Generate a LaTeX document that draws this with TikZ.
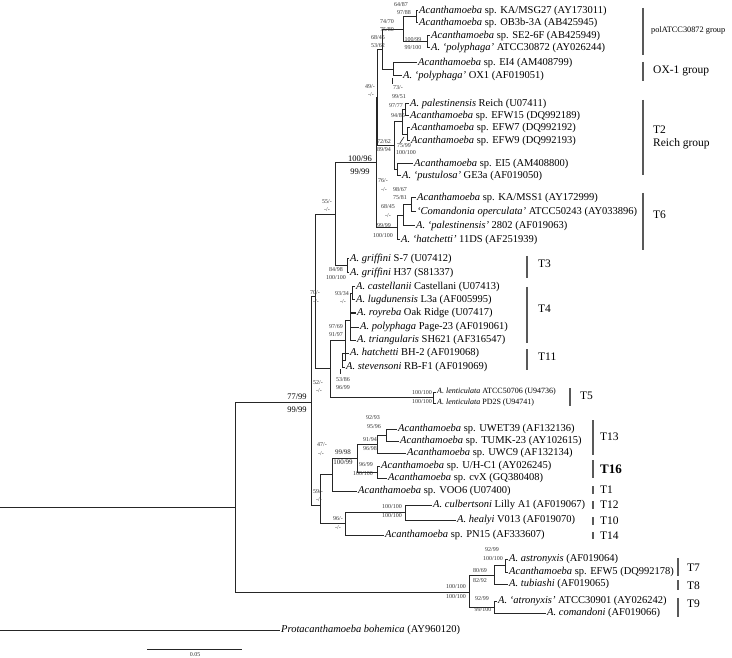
\documentclass[tikz,border=0pt]{standalone}
\usepackage{fontspec}
\setmainfont{Liberation Serif}
\usetikzlibrary{positioning}

\tikzset{
  leaf/.style={anchor=west, inner sep=1pt, font=\fontsize{10.5}{12}\selectfont},
  sleaf/.style={leaf, font=\fontsize{8}{9}\selectfont},
  sv/.style={inner sep=0pt, font=\fontsize{6}{7}\selectfont, text=black!80},
  mv/.style={inner sep=0pt, font=\fontsize{7}{8}\selectfont, text=black!85},
  bv/.style={inner sep=0pt, font=\fontsize{8.5}{9}\selectfont},
  grp/.style={anchor=west, inner sep=0pt, font=\fontsize{11.5}{13}\selectfont, align=left},
  bar/.style={line width=1.6pt, black!65},
  br/.style={line width=1pt, black!85},
}

\begin{document}
\begin{tikzpicture}[x=1pt, y=-1pt]
\useasboundingbox (0,0) rectangle (732,658);

% leaves
\node[leaf] (l1) at (418,11) {\textit{Acanthamoeba} sp. KA/MSG27 (AY173011)};
\node[leaf] (l2) at (418,23) {\textit{Acanthamoeba} sp. OB3b-3A (AB425945)};
\node[leaf] (l3) at (430,36) {\textit{Acanthamoeba} sp. SE2-6F (AB425949)};
\node[leaf] (l4) at (430,48) {\textit{A. `polyphaga'} ATCC30872 (AY026244)};
\node[leaf] (l5) at (417,63) {\textit{Acanthamoeba} sp. EI4 (AM408799)};
\node[leaf] (l6) at (402,76) {\textit{A. `polyphaga'} OX1 (AF019051)};
\node[leaf] (l7) at (409,104) {\textit{A. palestinensis} Reich (U07411)};
\node[leaf] (l8) at (409,116) {\textit{Acanthamoeba} sp. EFW15 (DQ992189)};
\node[leaf] (l9) at (410,128) {\textit{Acanthamoeba} sp. EFW7 (DQ992192)};
\node[leaf] (l10) at (410,141) {\textit{Acanthamoeba} sp. EFW9 (DQ992193)};
\node[leaf] (l11) at (413,164) {\textit{Acanthamoeba} sp. EI5 (AM408800)};
\node[leaf] (l12) at (401,176) {\textit{A. `pustulosa'} GE3a (AF019050)};
\node[leaf] (l13) at (416,198) {\textit{Acanthamoeba} sp. KA/MSS1 (AY172999)};
\node[leaf] (l14) at (416,212) {\textit{`Comandonia operculata'} ATCC50243 (AY033896)};
\node[leaf] (l15) at (415,226) {\textit{A. `palestinensis'} 2802 (AF019063)};
\node[leaf] (l16) at (400,240) {\textit{A. `hatchetti'} 11DS (AF251939)};
\node[leaf] (l17) at (349,259) {\textit{A. griffini} S-7 (U07412)};
\node[leaf] (l18) at (349,273) {\textit{A. griffini} H37 (S81337)};
\node[leaf] (l19) at (355,287) {\textit{A. castellanii} Castellani (U07413)};
\node[leaf] (l20) at (355,300) {\textit{A. lugdunensis} L3a (AF005995)};
\node[leaf] (l21) at (356,313) {\textit{A. royreba} Oak Ridge (U07417)};
\node[leaf] (l22) at (359,327) {\textit{A. polyphaga} Page-23 (AF019061)};
\node[leaf] (l23) at (356,340) {\textit{A. triangularis} SH621 (AF316547)};
\node[leaf] (l24) at (349,353) {\textit{A. hatchetti} BH-2 (AF019068)};
\node[leaf] (l25) at (345,367) {\textit{A. stevensoni} RB-F1 (AF019069)};
\node[sleaf] (l26) at (436,392) {\textit{A. lenticulata} ATCC50706 (U94736)};
\node[sleaf] (l27) at (436,403) {\textit{A. lenticulata} PD2S (U94741)};
\node[leaf] (l28) at (397,429) {\textit{Acanthamoeba} sp. UWET39 (AF132136)};
\node[leaf] (l29) at (399,441) {\textit{Acanthamoeba} sp. TUMK-23 (AY102615)};
\node[leaf] (l30) at (406,453) {\textit{Acanthamoeba} sp. UWC9 (AF132134)};
\node[leaf] (l31) at (380,466) {\textit{Acanthamoeba} sp. U/H-C1 (AY026245)};
\node[leaf] (l32) at (387,478) {\textit{Acanthamoeba} sp. cvX (GQ380408)};
\node[leaf] (l33) at (357,491) {\textit{Acanthamoeba} sp. VOO6 (U07400)};
\node[leaf] (l34) at (432,505) {\textit{A. culbertsoni} Lilly A1 (AF019067)};
\node[leaf] (l35) at (456,520) {\textit{A. healyi} V013 (AF019070)};
\node[leaf] (l36) at (384,535) {\textit{Acanthamoeba} sp. PN15 (AF333607)};
\node[leaf] (l37) at (508,559) {\textit{A. astronyxis} (AF019064)};
\node[leaf] (l38) at (508,572) {\textit{Acanthamoeba} sp. EFW5 (DQ992178)};
\node[leaf] (l39) at (508,584) {\textit{A. tubiashi} (AF019065)};
\node[leaf] (l40) at (497,601) {\textit{A. `atronyxis'} ATCC30901 (AY026242)};
\node[leaf] (l41) at (546,613) {\textit{A. comandoni} (AF019066)};
\node[leaf] (l42) at (280,630) {\textit{Protacanthamoeba bohemica} (AY960120)};

% internal nodes
\coordinate (n1) at (416,17);
\coordinate (n2) at (427,42);
\coordinate (n3) at (403,29.5);
\coordinate (n4) at (393,69.5);
\coordinate (n5) at (382,49.5);
\coordinate (n6) at (407,134.5);
\coordinate (n7) at (405,110);
\coordinate (n8) at (402,122);
\coordinate (n9) at (397,170);
\coordinate (n10) at (394,146);
\coordinate (n11) at (377,97.75);
\coordinate (n12) at (411,205);
\coordinate (n13) at (403,215.5);
\coordinate (n14) at (397,228);
\coordinate (n15) at (376,163);
\coordinate (n16) at (347,266);
\coordinate (n17) at (335,214.5);
\coordinate (n18) at (352,293.5);
\coordinate (n19) at (350,320);
\coordinate (n20) at (342,360);
\coordinate (n21) at (345,340);
\coordinate (n22) at (433,397.5);
\coordinate (n23) at (330,368.75);
\coordinate (n24) at (315,297);
\coordinate (n25) at (386,435);
\coordinate (n26) at (377,444);
\coordinate (n27) at (377,472);
\coordinate (n28) at (357,458);
\coordinate (n29) at (332,474.5);
\coordinate (n30) at (405,512.5);
\coordinate (n31) at (345,523.75);
\coordinate (n32) at (320,505);
\coordinate (n33) at (311,402);
\coordinate (n34) at (505,565.5);
\coordinate (n35) at (494,575);
\coordinate (n36) at (494,607);
\coordinate (n37) at (469,592);
\coordinate (n38) at (235,507);
\coordinate (root) at (-2,568);

% branches
\draw[br] (n1) |- (l1.west) (n1) |- (l2.west)
  (n2) |- (l3.west) (n2) |- (l4.west)
  (n3) |- (n1) (n3) |- (n2)
  (n4) |- (l5.west) (n4) |- (l6.west)
  (n5) |- (n3) (n5) |- (n4)
  (n6) |- (l9.west) (n6) |- (l10.west)
  (n7) |- (l7.west) (n7) |- (l8.west)
  (n8) |- (n7) (n8) |- (n6)
  (n9) |- (l11.west) (n9) |- (l12.west)
  (n10) |- (n8) (n10) |- (n9)
  (n11) |- (n5) (n11) |- (n10)
  (n12) |- (l13.west) (n12) |- (l14.west)
  (n13) |- (n12) (n13) |- (l15.west)
  (n14) |- (n13) (n14) |- (l16.west)
  (n15) |- (n11) (n15) |- (n14)
  (n16) |- (l17.west) (n16) |- (l18.west)
  (n17) |- (n15) (n17) |- (n16)
  (n18) |- (l19.west) (n18) |- (l20.west)
  (n19) |- (n18) (n19) |- (l21.west) (n19) |- (l22.west) (n19) |- (l23.west)
  (n20) |- (l24.west) (n20) |- (l25.west)
  (n21) |- (n19) (n21) |- (n20)
  (n22) |- (l26.west) (n22) |- (l27.west)
  (n23) |- (n21) (n23) |- (n22)
  (n24) |- (n17) (n24) |- (n23)
  (n25) |- (l28.west) (n25) |- (l29.west)
  (n26) |- (n25) (n26) |- (l30.west)
  (n27) |- (l31.west) (n27) |- (l32.west)
  (n28) |- (n26) (n28) |- (n27)
  (n29) |- (n28) (n29) |- (l33.west)
  (n30) |- (l34.west) (n30) |- (l35.west)
  (n31) |- (n30) (n31) |- (l36.west)
  (n32) |- (n29) (n32) |- (n31)
  (n33) |- (n24) (n33) |- (n32)
  (n34) |- (l37.west) (n34) |- (l38.west)
  (n35) |- (n34) (n35) |- (l39.west)
  (n36) |- (l40.west) (n36) |- (l41.west)
  (n37) |- (n35) (n37) |- (n36)
  (n38) |- (n33) (n38) |- (n37)
  (root) |- (n38) (root) |- (l42.west);

% pointer ticks
\draw[br, line width=0.6pt] (392,78) -- (392,84);
\draw[br, line width=0.6pt] (400,143) -- (404,137);
\draw[br, line width=0.6pt] (340,369) -- (340,374);

% support values
\node[sv] (s1) at (401,5) {64/87};
\node[sv] (s2) at (404,13) {97/88};
\node[sv] (s3) at (387,22) {74/70};
\node[sv] (s4) at (387,30) {75/80};
\node[sv] (s5) at (413,40) {100/99};
\node[sv] (s6) at (413,48) {99/100};
\node[sv] (s7) at (378,38) {68/45};
\node[sv] (s8) at (378,46) {53/62};
\node[sv] (s9) at (398,88) {73/-};
\node[sv] (s10) at (399,97) {99/51};
\node[sv] (s11) at (370,87) {49/-};
\node[sv] (s12) at (371,95) {-/-};
\node[sv] (s13) at (396,106) {97/77};
\node[sv] (s14) at (398,116) {94/85};
\node[sv] (s15) at (404,146) {75/99};
\node[sv] (s16) at (406,153) {100/100};
\node[sv] (s17) at (384,142) {72/62};
\node[sv] (s18) at (384,150) {89/94};
\node[bv] (s19) at (360,159) {100/96};
\node[bv] (s20) at (360,172) {99/99};
\node[sv] (s21) at (383,181) {76/-};
\node[sv] (s22) at (384,190) {-/-};
\node[sv] (s23) at (400,190) {98/67};
\node[sv] (s24) at (400,198) {75/81};
\node[sv] (s25) at (388,207) {68/45};
\node[sv] (s26) at (388,216) {-/-};
\node[sv] (s27) at (384,226) {99/99};
\node[sv] (s28) at (383,236) {100/100};
\node[sv] (s29) at (327,202) {55/-};
\node[sv] (s30) at (327,210) {-/-};
\node[sv] (s31) at (336,270) {84/98};
\node[sv] (s32) at (336,278) {100/100};
\node[sv] (s33) at (342,294) {93/34};
\node[sv] (s34) at (343,302) {-/-};
\node[sv] (s35) at (315,293) {70/-};
\node[sv] (s36) at (316,302) {-/-};
\node[sv] (s37) at (336,327) {97/69};
\node[sv] (s38) at (336,335) {91/97};
\node[sv] (s39) at (343,380) {53/86};
\node[sv] (s40) at (343,388) {96/99};
\node[sv] (s41) at (318,383) {52/-};
\node[sv] (s42) at (319,391) {-/-};
\node[bv] (s43) at (297,397) {77/99};
\node[bv] (s44) at (297,410) {99/99};
\node[sv] (s45) at (422,393) {100/100};
\node[sv] (s46) at (422,402) {100/100};
\node[sv] (s47) at (373,418) {92/93};
\node[sv] (s48) at (374,427) {95/96};
\node[sv] (s49) at (370,440) {91/94};
\node[sv] (s50) at (370,449) {96/98};
\node[mv] (s51) at (343,452) {99/98};
\node[mv] (s52) at (343,462) {100/99};
\node[sv] (s53) at (366,465) {96/99};
\node[sv] (s54) at (363,474) {100/100};
\node[sv] (s55) at (322,445) {47/-};
\node[sv] (s56) at (321,454) {-/-};
\node[sv] (s57) at (318,492) {59/-};
\node[sv] (s58) at (319,500) {-/-};
\node[sv] (s59) at (392,507) {100/100};
\node[sv] (s60) at (392,516) {100/100};
\node[sv] (s61) at (338,519) {96/-};
\node[sv] (s62) at (338,528) {-/-};
\node[sv] (s63) at (492,550) {92/99};
\node[sv] (s64) at (493,559) {100/100};
\node[sv] (s65) at (480,571) {80/69};
\node[sv] (s66) at (480,581) {82/92};
\node[sv] (s67) at (482,599) {92/99};
\node[sv] (s68) at (483,610) {99/100};
\node[sv] (s69) at (456,587) {100/100};
\node[sv] (s70) at (456,597) {100/100};

% group bars
\draw[bar] (643,8) -- (643,55);
\node[grp, font=\fontsize{8.3}{10}\selectfont] (g1) at (651,31) {polATCC30872 group};
\draw[bar] (643,62) -- (643,81);
\node[grp] (g2) at (653,71) {OX-1 group};
\draw[bar] (643,100) -- (643,175);
\node[grp] (g3) at (653,137) {T2\\Reich group};
\draw[bar] (643,193) -- (643,250);
\node[grp] (g4) at (653,215) {T6};
\draw[bar] (527,256) -- (527,278);
\node[grp] (g5) at (538,264) {T3};
\draw[bar] (527,287) -- (527,343);
\node[grp] (g6) at (538,309) {T4};
\draw[bar] (527,349) -- (527,370);
\node[grp] (g7) at (538,357) {T11};
\draw[bar] (570,388) -- (570,406);
\node[grp] (g8) at (580,396) {T5};
\draw[bar] (593,420) -- (593,455);
\node[grp] (g9) at (600,437) {T13};
\draw[bar] (593,460) -- (593,478);
\node[grp, font=\fontsize{13}{14}\selectfont\bfseries] (g10) at (600,469) {T16};
\draw[bar] (593,486) -- (593,494);
\node[grp] (g11) at (600,490) {T1};
\draw[bar] (593,501) -- (593,509);
\node[grp] (g12) at (600,505) {T12};
\draw[bar] (593,517) -- (593,525);
\node[grp] (g13) at (600,521) {T10};
\draw[bar] (593,532) -- (593,539);
\node[grp] (g14) at (600,536) {T14};
\draw[bar] (678,558) -- (678,576);
\node[grp] (g15) at (687,568) {T7};
\draw[bar] (678,580) -- (678,590);
\node[grp] (g16) at (687,586) {T8};
\draw[bar] (678,598) -- (678,617);
\node[grp] (g17) at (687,604) {T9};

% scale bar
\coordinate (sb1) at (147,649);
\coordinate (sb2) at (242,649);
\draw[br] (sb1) -- (sb2);
\node[sv, anchor=north] (sbl) at (195,652) {0.05};
\end{tikzpicture}
\end{document}
